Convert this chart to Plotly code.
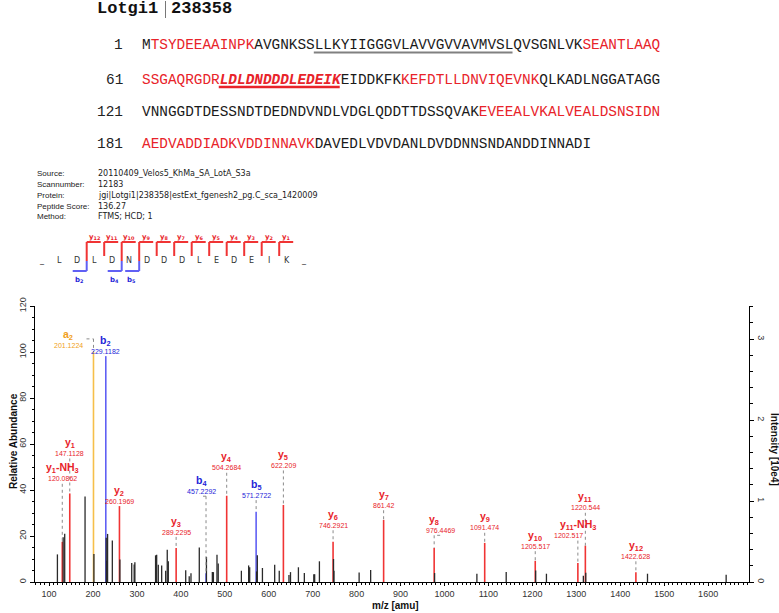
import re
import plotly.graph_objects as go

# ---------------- data ----------------
title_left = "Lotgi1"
title_right = "238358"
seq_rows = [
    "MTSYDEEAAINPKAVGNKSSLLKYIIGGGVLAVVGVVAVMVSLQVSGNLVKSEANTLAAQ",
    "SSGAQRGDRLDLDNDDDLEDEIKEIDDKFKKEFDTLLDNVIQEVNKQLKADLNGGATAGG",
    "VNNGGDTDESSNDTDEDNDVNDLVDGLQDDTTDSSQVAKEVEEALVKALVEALDSNSIDN",
    "AEDVADDIADKVDDINNAVKDAVEDLVDVDANLDVDDNNSNDANDDINNADI",
]
row_numbers = [1, 61, 121, 181]
covered_ranges = [(2, 13), (52, 69), (70, 83), (91, 106), (160, 200)]
tm_range = (21, 43)
peptide = "LDLDNDDDLEDEIK"

info_labels = ["Source:", "Scannumber:", "Protein:", "Peptide Score:", "Method:"]
info_values = ["20110409_Velos5_KhMa_SA_LotA_S3a", "12183",
               "jgi|Lotgi1|238358|estExt_fgenesh2_pg.C_sca_1420009",
               "136.27", "FTMS; HCD; 1"]

# unassigned peaks (m/z, relative abundance)
other_mz = [119.0, 132.1, 135.6, 181.9, 202.1, 230.1, 231.1, 233.2, 244.0, 261.2,
            288.1, 293.7, 295.3, 342.4, 344.9, 348.6, 356.3, 365.4, 369.0, 371.4,
            411.0, 419.0, 423.0, 441.9, 458.2, 471.6, 474.0, 482.2, 485.0, 537.7,
            554.2, 556.6, 572.3, 574.0, 585.6, 613.5, 623.9, 646.0, 649.5, 667.5,
            681.0, 702.5, 704.5, 715.3, 747.4, 748.4, 805.7, 831.9, 977.45, 1073.7,
            1140.4, 1207.5, 1232.0, 1316.0, 1321.5, 1462.0, 1641.0]
other_int = [12.0, 19.5, 21.0, 37.2, 12.2, 19.2, 9.2, 20.9, 18.0, 9.8,
             8.3, 7.6, 8.6, 11.6, 11.9, 7.5, 7.2, 4.9, 14.0, 9.0,
             5.1, 2.5, 3.8, 15.0, 10.9, 4.3, 4.3, 11.8, 8.0, 4.9,
             7.2, 6.4, 4.6, 11.6, 6.1, 7.5, 4.9, 3.0, 4.3, 6.4,
             3.9, 3.4, 3.4, 9.0, 10.0, 4.9, 4.1, 5.2, 3.9, 3.6,
             4.3, 5.0, 3.6, 2.7, 4.0, 3.6, 3.2]

# assigned fragment ions
ion_names = ["a2", "b2", "y1-NH3", "y1", "y2", "y3", "b4", "y4", "b5", "y5",
             "y6", "y7", "y8", "y9", "y10", "y11-NH3", "y11", "y12"]
ion_mz = [201.12, 229.12, 130.09, 147.11, 260.20, 389.23, 457.23, 504.27, 571.27, 633.31,
          746.39, 861.42, 976.45, 1091.47, 1206.50, 1303.52, 1320.54, 1435.57]
ion_int = [100.0, 98.2, 17.5, 38.5, 33.0, 14.8, 3.8, 37.5, 30.5, 33.5,
           17.5, 27.0, 14.8, 17.0, 9.2, 8.3, 15.8, 4.2]
ion_texts = ["201.1224", "229.1182", "120.0862", "147.1128", "260.1969", "289.2295",
             "457.2292", "504.2684", "571.2722", "622.209", "746.2921", "861.42",
             "976.4469", "1091.474", "1205.517", "1202.517", "1220.544", "1422.628"]
base_peak_intensity = 2.84  # x 10e4

# ---------------- layout helpers ----------------
W, H = 779, 613
ML, MR, MT, MB = 35, 30, 306, 31
PW, PH = W - ML - MR, H - MT - MB


def PX(x):
    return (x - ML) / PW


def PY(y):
    return (H - MB - y) / PH


RED, RED_LINE = "#e8232a", "#f03434"
BLUE, BLUE_LINE = "#2424d8", "#6060f4"
ORANGE, ORANGE_LINE = "#f0a020", "#f6bf4a"
BLACK_LINE = "#2a2a2a"
SANS = "Liberation Sans, Arial, sans-serif"
MONO = "Liberation Mono, Courier New, monospace"
SMALL = "DejaVu Sans, Verdana, sans-serif"

ann = []
shapes = []


def text(x, y, s, size, color="#000", family=SANS, xanchor="center", yanchor="middle",
         angle=0, xref="paper", yref="paper", xshift=0):
    ann.append(dict(x=x, y=y, xref=xref, yref=yref, text=s, showarrow=False,
                    font=dict(size=size, color=color, family=family),
                    xanchor=xanchor, yanchor=yanchor, textangle=angle,
                    borderpad=0, xshift=xshift))


def pline(x0, y0, x1, y1, color, width, dash="solid"):
    shapes.append(dict(type="line", xref="paper", yref="paper",
                       x0=PX(x0), y0=PY(y0), x1=PX(x1), y1=PY(y1),
                       line=dict(color=color, width=width, dash=dash)))


# ---------------- header: protein + sequence ----------------
TITLE_SIZE = 17
text(PX(96), PY(9), "<b>%s</b>" % title_left, TITLE_SIZE, "#111", MONO, xanchor="left")
text(PX(170), PY(9), "<b>%s</b>" % title_right, TITLE_SIZE, "#111", MONO, xanchor="left")
pline(165.5, 1, 165.5, 18, "#777", 1)

SEQ_SIZE = 14.4
CW = 0.6 * SEQ_SIZE
SEQ_X0 = 141
row_y = [45, 79.5, 112, 144]
full_seq = "".join(seq_rows)
pep_start = full_seq.find(peptide) + 1
pep_end = pep_start + len(peptide) - 1


def cls(pos):
    if pep_start <= pos <= pep_end:
        return "hl"
    for a, b in covered_ranges:
        if a <= pos <= b:
            return "red"
    return "blk"


for r, row in enumerate(seq_rows):
    start = row_numbers[r]
    runs = []
    for i, ch in enumerate(row):
        c = cls(start + i)
        if runs and runs[-1][0] == c:
            runs[-1][1] += ch
        else:
            runs.append([c, ch])
    html = ""
    for c, s in runs:
        if c == "red":
            html += '<span style="color:%s">%s</span>' % (RED, s)
        elif c == "hl":
            html += '<b><i><span style="color:%s">%s</span></i></b>' % (RED, s)
        else:
            html += '<span style="color:#1a1a1a">%s</span>' % s
    text(PX(124), PY(row_y[r]), str(start), SEQ_SIZE, "#222", MONO, xanchor="right")
    text(PX(SEQ_X0), PY(row_y[r]), html, SEQ_SIZE, "#1a1a1a", MONO, xanchor="left")
    end = start + len(row) - 1
    # underline transmembrane stretch (gray) and identified peptide (red)
    for (a, b), col, wdt in [(tm_range, "#808080", 2), ((pep_start, pep_end), RED, 2.5)]:
        lo, hi = max(a, start), min(b, end)
        if lo <= hi:
            xa = SEQ_X0 + (lo - start) * CW
            xb = SEQ_X0 + (hi - start + 1) * CW
            pline(xa, row_y[r] + 7.5, xb, row_y[r] + 7.5, col, wdt)

# ---------------- info block ----------------
info_y = [173, 184, 195, 206, 217]
for lab, val, yy in zip(info_labels, info_values, info_y):
    text(PX(36), PY(yy), lab, 8, "#222", SANS, xanchor="left")
    text(PX(97), PY(yy), val, 8, "#222", SMALL, xanchor="left")

# ---------------- fragment map ----------------
letters = ["_"] + list(peptide) + ["_"]
LX0, LSTEP, LY = 41.7, 17.5, 260
for i, ch in enumerate(letters):
    text(PX(LX0 + LSTEP * i), PY(LY), ch, 8, "#333", SMALL)

n = len(peptide)
y_obs = sorted({int(m.group(1)) for m in (re.fullmatch(r"y(\d+)", s) for s in ion_names) if m})
b_obs = sorted({int(m.group(1)) for m in (re.fullmatch(r"b(\d+)", s) for s in ion_names) if m})
TOP, MID_S, MID_L, BOT = 242, 256, 261, 271
for k in y_obs:
    cut = n - k
    vx = LX0 + LSTEP * cut + 10
    low = MID_L if cut in b_obs else MID_S
    pline(vx, low, vx, TOP, RED_LINE, 2)
    pline(vx, TOP, vx + 14, TOP, RED_LINE, 2)
    text(PX(vx + 7.5), PY(237.5), "<b>y<sub>%d</sub></b>" % k, 7, RED, SMALL)
for k in b_obs:
    vx = LX0 + LSTEP * k + 10
    pline(vx, MID_L, vx, BOT, BLUE_LINE, 2)
    pline(vx, BOT, vx - 14, BOT, BLUE_LINE, 2)
    text(PX(vx - 7.5), PY(280), "<b>b<sub>%d</sub></b>" % k, 7, BLUE, SMALL)

# ---------------- spectrum ----------------
def sticks(mzs, ints):
    xs, ys = [], []
    for m, v in zip(mzs, ints):
        xs += [m, m, None]
        ys += [0, v, None]
    return xs, ys


type_color = {"a": (ORANGE, ORANGE_LINE), "b": (BLUE, BLUE_LINE), "y": (RED, RED_LINE)}

fig = go.Figure()
for t in ["y", "b", "a"]:
    sel = [i for i, s in enumerate(ion_names) if s[0] == t]
    xs, ys = sticks([ion_mz[i] for i in sel], [ion_int[i] for i in sel])
    fig.add_trace(go.Scatter(x=xs, y=ys, mode="lines", line=dict(color=type_color[t][1], width=1.6),
                             hoverinfo="skip", showlegend=False))
xs, ys = sticks(other_mz, other_int)
fig.add_trace(go.Scatter(x=xs, y=ys, mode="lines", line=dict(color=BLACK_LINE, width=1.3),
                         hoverinfo="skip", showlegend=False))
# intensity axis carrier
fig.add_trace(go.Scatter(x=[ion_mz[0]], y=[ion_int[0] * base_peak_intensity / 100], yaxis="y2",
                         mode="markers", marker=dict(opacity=0), hoverinfo="skip", showlegend=False))

# label placement (relative-abundance level of the m/z text)
label_level = [102.9, 100.3, 44.8, 55.8, 34.8, 21.7, 39.4, 49.6, 37.7, 50.6,
               24.6, 33.3, 22.4, 23.5, 15.5, 20.1, 32.2, 11.1]
name_dx = {"a2": -25, "b4": -5}
text_dx = {"a2": -25, "b4": -5, "y8": 6, "y11-NH3": -9}
conn_top = {"a2": 105.7}
conn_h = {"a2": -7, "y8": 6, "b4": -3}

for i, nm in enumerate(ion_names):
    col = type_color[nm[0]][0]
    L = label_level[i]
    html = re.sub(r"([A-Za-z])(\d+)", r"\1<sub>\2</sub>", nm)
    text(ion_mz[i], L + 4.6, "<b>%s</b>" % html, 10.5, col, SANS, xref="x", yref="y",
         xshift=name_dx.get(nm, 0))
    text(ion_mz[i], L, ion_texts[i], 7, col, SANS, xref="x", yref="y",
         xshift=text_dx.get(nm, 0))
    top = conn_top.get(nm, L - 2.1)
    if top > ion_int[i]:
        shapes.append(dict(type="line", xref="x", yref="y", x0=ion_mz[i], x1=ion_mz[i],
                           y0=top, y1=ion_int[i], line=dict(color="#8a8a8a", width=1, dash="dot")))
        if nm in conn_h:
            shapes.append(dict(type="line", xref="x", yref="y", xsizemode="pixel",
                               xanchor=ion_mz[i], x0=conn_h[nm], x1=0, y0=top, y1=top,
                               line=dict(color="#8a8a8a", width=1, dash="dot")))

# axis titles
text(PX(13), PY(441), "<b>Relative Abundance</b>", 10, "#111", SANS, angle=-90)
text(PX(775), PY(449), "<b>Intensity [10e4]</b>", 10, "#111", SANS, angle=90)
text(PX(395), PY(605), "<b>m/z [amu]</b>", 10, "#111", SANS)

axis_common = dict(showline=True, linecolor="#000", linewidth=1, ticks="outside",
                   tickcolor="#000", showgrid=False, zeroline=False,
                   tickfont=dict(size=9, color="#333", family=SANS))

fig.update_layout(
    width=W, height=H, margin=dict(l=ML, r=MR, t=MT, b=MB, autoexpand=False),
    paper_bgcolor="white", plot_bgcolor="white",
    font=dict(family=SANS),
    xaxis=dict(range=[68, 1693], dtick=100, tick0=0, ticklen=3,
               minor=dict(dtick=10, ticks="outside", ticklen=2, tickcolor="#000"),
               **axis_common),
    yaxis=dict(range=[0, 120], dtick=20, tickangle=-90, ticklen=4,
               minor=dict(dtick=5, ticks="outside", ticklen=2.5, tickcolor="#000"),
               **axis_common),
    yaxis2=dict(range=[0, 120 * base_peak_intensity / 100], dtick=1, tickangle=90, ticklen=4,
                overlaying="y", side="right",
                minor=dict(dtick=0.2, ticks="outside", ticklen=2.5, tickcolor="#000"),
                **axis_common),
    annotations=ann, shapes=shapes,
)

fig.write_html("out.html", config={"displayModeBar": False},
               post_script="document.body.style.margin='0';")
